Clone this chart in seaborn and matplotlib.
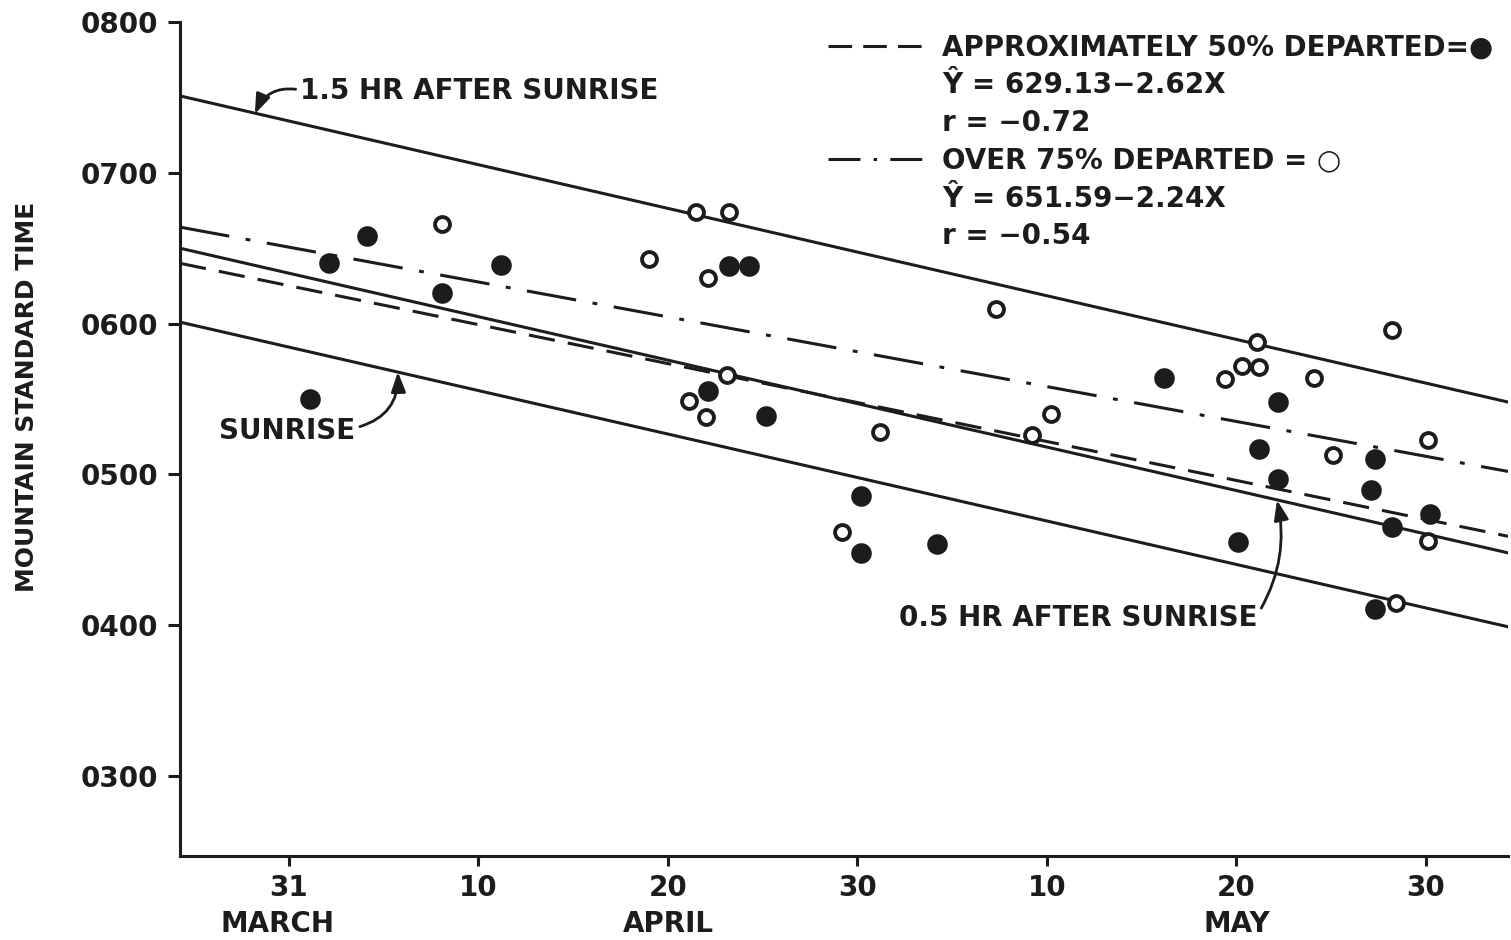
import numpy as np
import pandas as pd
import matplotlib
matplotlib.use("Agg")
import matplotlib.pyplot as plt
import matplotlib.transforms as mtransforms
from matplotlib.lines import Line2D
import seaborn as sns

# days counted from 1 March (31 = March 31, 41 = April 10, 61 = April 30 ...)
# times in HHMM units
half_days = [32.1, 33.1, 35.1, 39.1, 42.2, 53.1, 54.2, 55.3, 56.2, 61.2, 61.2,
             65.2, 77.2, 81.1, 82.2, 83.2, 83.2, 88.1, 88.3, 88.3, 89.2, 91.2]
half_times = [550, 640, 658, 620, 639, 555, 638, 638, 539, 486, 448,
              454, 564, 455, 517, 548, 497, 490, 510, 411, 465, 474]

over_days = [39.1, 50.0, 52.5, 54.2, 53.1, 54.1, 52.1, 53.0, 62.2, 60.2, 68.3, 71.2,
             70.2, 80.4, 81.3, 82.2, 82.1, 85.1, 86.1, 89.2, 91.1, 91.1, 89.4]
over_times = [666, 643, 674, 674, 630, 566, 549, 538, 528, 462, 610, 540,
              526, 563, 572, 571, 588, 564, 513, 596, 523, 456, 415]

# reference lines, value at left and right end of the axis
line_days = [25.25, 95.33]
sunrise = [601, 399]
half_hr_after = [650, 448]
one_half_hr_after = [751, 548]
fit_50 = [640, 459]
fit_75 = [664, 502]

x_ticks = [31, 41, 51, 61, 71, 81, 91]
x_tick_labels = ['31', '10', '20', '30', '10', '20', '30']
month_names = ['MARCH', 'APRIL', 'MAY']
month_pos = [30.4, 51, 81]
y_ticks = [300, 400, 500, 600, 700, 800]
y_tick_labels = ['0300', '0400', '0500', '0600', '0700', '0800']

sns.set_style("ticks")
plt.rcParams['font.family'] = ['DejaVu Sans', 'Noto Sans']
plt.rcParams['font.weight'] = 'bold'
plt.rcParams['lines.scale_dashes'] = False

ink = '#1c1c1c'
fig = plt.figure(figsize=(15.11, 9.40), dpi=100)
ax = fig.add_axes([180 / 1511, 1 - 856 / 940, 1328 / 1511, 834 / 940])

lw = 2.2
ax.plot(line_days, one_half_hr_after, color=ink, lw=lw, zorder=2)
ax.plot(line_days, half_hr_after, color=ink, lw=lw, zorder=2)
ax.plot(line_days, sunrise, color=ink, lw=lw, zorder=2)
ax.plot(line_days, fit_50, color=ink, lw=lw, dashes=(19, 9.5), zorder=2)
ax.plot(line_days, fit_75, color=ink, lw=lw, dashes=(36, 12, 3.5, 12), zorder=2)

df_half = pd.DataFrame({'day': half_days, 'time': half_times})
df_over = pd.DataFrame({'day': over_days, 'time': over_times})
sns.scatterplot(data=df_half, x='day', y='time', ax=ax, s=220, color=ink,
                edgecolor=ink, linewidth=0, zorder=4)
sns.scatterplot(data=df_over, x='day', y='time', ax=ax, s=115, facecolor='white',
                edgecolor=ink, linewidth=2.8, zorder=4)

ax.set_xlim(line_days)
ax.set_ylim(247, 800)
ax.set_xticks(x_ticks)
ax.set_xticklabels(x_tick_labels)
ax.set_yticks(y_ticks)
ax.set_yticklabels(y_tick_labels)
ax.set_xlabel('')
ax.set_ylabel('MOUNTAIN STANDARD TIME', fontsize=18, fontweight='bold', color=ink)
ax.yaxis.set_label_coords(-0.106, 0.55)
ax.tick_params(axis='y', length=8.6, width=lw, pad=7, labelsize=20, color=ink, labelcolor=ink)
ax.tick_params(axis='x', length=7, width=lw, pad=6, labelsize=20, color=ink, labelcolor=ink)
sns.despine(ax=ax)
for sp in ['left', 'bottom']:
    ax.spines[sp].set_linewidth(lw)
    ax.spines[sp].set_color(ink)

trans = mtransforms.blended_transform_factory(ax.transData, ax.transAxes)
for name, pos in zip(month_names, month_pos):
    ax.text(pos, -0.0815, name, transform=trans, ha='center', va='center',
            fontsize=20, color=ink)

# curved labels for the sunrise lines
arrow = dict(arrowstyle='-|>,head_length=0.6,head_width=0.22', color=ink, lw=2,
             shrinkA=1, shrinkB=0)
ax.annotate('1.5 HR AFTER SUNRISE', xy=(29.2, 739), xytext=(31.6, 754),
            ha='left', va='center', fontsize=20, color=ink,
            arrowprops=dict(arrow, relpos=(0, 0.55), connectionstyle='arc3,rad=0.4'))
ax.annotate('SUNRISE', xy=(36.75, 568), xytext=(34.5, 529),
            ha='right', va='center', fontsize=20, color=ink,
            arrowprops=dict(arrow, relpos=(1, 0.6), connectionstyle='arc3,rad=0.4'))
ax.annotate('0.5 HR AFTER SUNRISE', xy=(83.14, 483), xytext=(82.1, 405),
            ha='right', va='center', fontsize=20, color=ink,
            arrowprops=dict(arrow, relpos=(1, 0.6), connectionstyle='arc3,rad=0.2'))

blank = Line2D([], [], linestyle='none')
handles = [Line2D([], [], color=ink, lw=lw, dashes=(17, 8)), blank, blank,
           Line2D([], [], color=ink, lw=lw, dashes=(23, 9.5, 2.5, 9.5)), blank, blank]
labels = ['APPROXIMATELY 50% DEPARTED=●', 'Ŷ = 629.13−2.62X', 'r = −0.72',
          'OVER 75% DEPARTED = ○', 'Ŷ = 651.59−2.24X', 'r = −0.54']
leg = ax.legend(handles, labels, loc='upper left', bbox_to_anchor=(0.488, 0.986),
                frameon=False, fontsize=20, handlelength=3.5, handletextpad=0.6,
                labelspacing=0.35, borderpad=0, borderaxespad=0, labelcolor=ink)

fig.savefig('out.png', dpi=100, facecolor='white')
